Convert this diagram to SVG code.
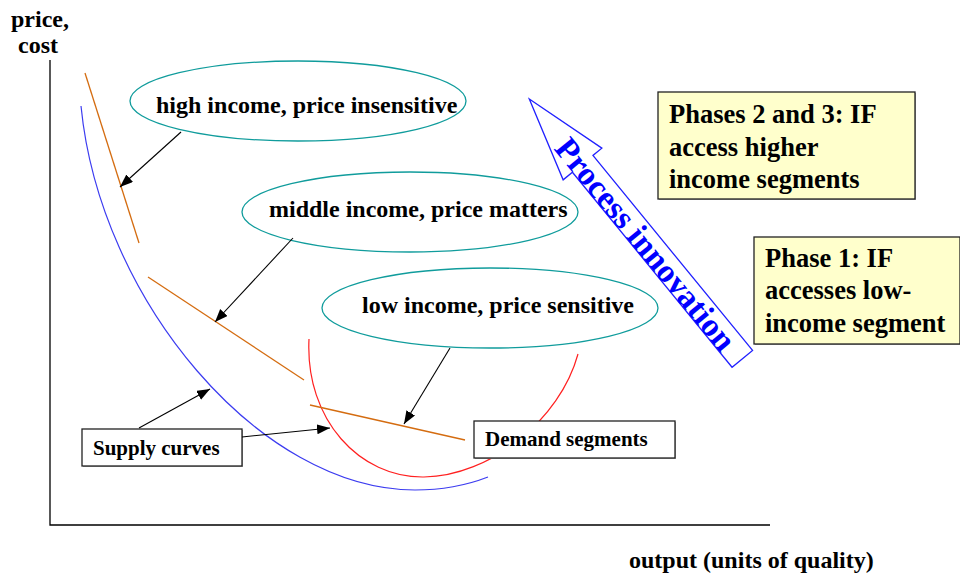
<svg xmlns="http://www.w3.org/2000/svg" width="960" height="576" viewBox="0 0 960 576">
<style>
.t{font-family:"Liberation Serif","Times New Roman",serif;font-weight:bold;fill:#000}
.ell{fill:#fff;stroke:#109c9c;stroke-width:1.3}
.dem{fill:none;stroke:#d46c10;stroke-width:1.3}
.sup{fill:none;stroke:#3c3cf0;stroke-width:1.2}
.red{fill:none;stroke:#ff2020;stroke-width:1.2}
.con{fill:none;stroke:#000;stroke-width:1.1;marker-end:url(#ah)}
.box{fill:#fff;stroke:#222;stroke-width:1.3}
.ybox{fill:#ffffcc;stroke:#222;stroke-width:1.3}
.shadow{fill:#a8a8a8}
</style>
<defs>
<marker id="ah" markerUnits="userSpaceOnUse" markerWidth="14" markerHeight="12" refX="13" refY="5" orient="auto">
<path d="M0,0 L13,5 L0,10 Z" fill="#000"/>
</marker>
</defs>
<rect width="960" height="576" fill="#fff"/>

<g id="axes">
<path d="M50,60 L50,525 L770,525" fill="none" stroke="#000" stroke-width="1.3"/>
<text class="t" x="40" y="27" font-size="24" text-anchor="middle">price,</text>
<text class="t" x="38" y="53" font-size="24" text-anchor="middle">cost</text>
<text class="t" x="629" y="568" font-size="24">output (units of quality)</text>
</g>

<g id="curves">
<path class="sup" d="M81,106 C100,300 260,490 415,490 C445,490 470,484 488,477"/>
<path class="red" d="M309,339 C305,420 360,478 424,477 C490,476 560,420 578,354"/>
<line class="dem" x1="85" y1="73" x2="139" y2="243"/>
<line class="dem" x1="148" y1="277" x2="304" y2="380"/>
<line class="dem" x1="310" y1="405" x2="465" y2="440"/>
</g>

<g id="high-income">
<ellipse class="ell" cx="298" cy="101" rx="168" ry="40"/>
<text class="t" x="156" y="113" font-size="24">high income, price insensitive</text>
</g>
<g id="middle-income">
<ellipse class="ell" cx="410" cy="212" rx="168" ry="40"/>
<text class="t" x="269" y="217" font-size="24">middle income, price matters</text>
</g>
<g id="low-income">
<ellipse class="ell" cx="490" cy="308" rx="168" ry="40"/>
<text class="t" x="362" y="313" font-size="24">low income, price sensitive</text>
</g>

<g id="supply-curves">
<rect class="shadow" x="83" y="430" width="160" height="37"/>
<rect class="box" x="82" y="429" width="160" height="37"/>
<text class="t" x="93" y="455" font-size="21">Supply curves</text>
</g>
<g id="demand-segments">
<rect class="shadow" x="475" y="422" width="201" height="37"/>
<rect class="box" x="474" y="421" width="201" height="37"/>
<text class="t" x="485" y="446" font-size="21">Demand segments</text>
</g>

<g id="process-innovation" transform="translate(529.3,99) rotate(50.7)">
<polygon points="0,0 84,-25 84,-13.5 336,-13.5 336,13 84,13 84,25" fill="#fff" stroke="#2020ff" stroke-width="1.3"/>
<text x="186" y="13" font-size="33" text-anchor="middle" font-family="Liberation Serif, Times New Roman, serif" font-weight="bold" fill="#0000ff">Process innovation</text>
</g>

<g id="phases-2-3">
<rect class="shadow" x="659" y="93" width="257" height="107"/>
<rect class="ybox" x="658" y="92" width="257" height="107"/>
<text class="t" x="669" y="123" font-size="26.5">Phases 2 and 3: IF</text>
<text class="t" x="669" y="156" font-size="26.5">access higher</text>
<text class="t" x="669" y="188" font-size="26.5">income segments</text>
</g>
<g id="phase-1">
<rect class="shadow" x="755" y="238" width="206" height="107"/>
<rect class="ybox" x="754" y="237" width="206" height="107"/>
<text class="t" x="765" y="267" font-size="26.5">Phase 1: IF</text>
<text class="t" x="765" y="299" font-size="26.5">accesses low-</text>
<text class="t" x="765" y="332" font-size="26.5">income segment</text>
</g>

<g id="connectors">
<line class="con" x1="181" y1="132" x2="120" y2="187"/>
<line class="con" x1="293" y1="238" x2="215" y2="322"/>
<line class="con" x1="450" y1="348" x2="404" y2="424"/>
<line class="con" x1="139" y1="428" x2="210" y2="389"/>
<line class="con" x1="242" y1="437" x2="330" y2="428"/>
</g>
</svg>
